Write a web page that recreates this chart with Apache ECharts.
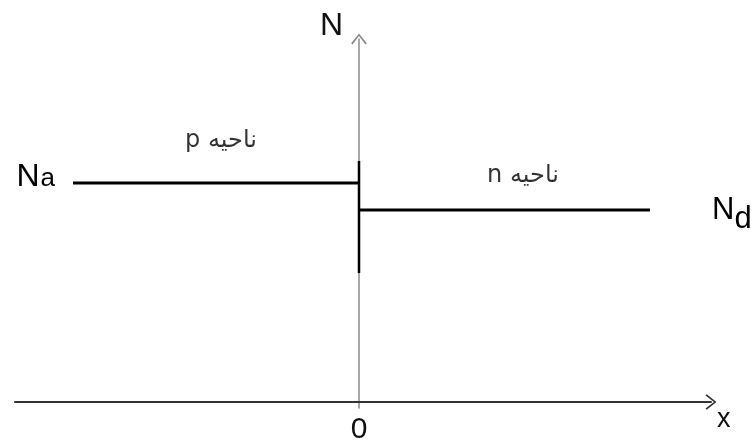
<!DOCTYPE html>
<html>
<head>
<meta charset="utf-8">
<script src="https://cdn.jsdelivr.net/npm/echarts@6/dist/echarts.min.js"></script>
<style>
html,body{margin:0;padding:0;background:#fff;}
#c{width:756px;height:441px;direction:rtl;}
</style>
</head>
<body>
<div id="c"></div>
<script>
// ---- data (x in distance units, 0 = junction; y = impurity level) ----
const naX = [-286, 0];
const naY = [219, 219];
const ndX = [0, 291];
const ndY = [192, 192];
const junctionX = [0, 0];
const junctionY = [241, 129];
const regionLabels = ['ناحیه p', 'ناحیه n'];
const regionX = [-138, 164];
const regionY = [261, 226];
const levelLabels = ['Na', 'Nd'];
const xTickLabels = [0];
const axisNames = {x: 'x', y: 'N'};

const chev = 'path://M0,10 L8,0 L16,10 L14.6,11.2 L8,2.6 L1.4,11.2 Z';
const font = 'Liberation Sans, Arial, sans-serif';
const ink = '#111';

const chart = echarts.init(document.getElementById('c'), null, {renderer: 'canvas'});

function pairs(xs, ys) { return xs.map((x, i) => [x, ys[i]]); }

const levelData = [
  {
    value: [naX[0], naY[0]], name: levelLabels[0],
    label: {
      position: 'left', distance: 18, offset: [0, -6],
      formatter: '{N|N}{s|a}',
      rich: {
        N: {fontSize: 32, lineHeight: 30, fontFamily: font, color: '#000', opacity: 1},
        s: {fontSize: 26, lineHeight: 26, verticalAlign: 'bottom', fontFamily: font, color: '#000', opacity: 1, padding: [0, 0, 0, 1]}
      }
    }
  },
  {
    value: [ndX[ndX.length - 1], ndY[ndY.length - 1]], name: levelLabels[1],
    label: {
      position: 'right', distance: 62, offset: [0, 5],
      formatter: '{N|N}{s|d}',
      rich: {
        N: {fontSize: 31, lineHeight: 30, verticalAlign: 'top', fontFamily: font, color: '#000', opacity: 1},
        s: {fontSize: 31, lineHeight: 40, verticalAlign: 'bottom', fontFamily: font, color: '#000', opacity: 1}
      }
    }
  }
];

const option = {
  animation: false,
  backgroundColor: '#fff',
  grid: {left: 15, right: 45, top: 39, bottom: 33, containLabel: false, outerBoundsMode: 'none'},
  xAxis: {
    type: 'value', min: -344, max: 352,
    name: axisNames.x, nameLocation: 'end', nameGap: 0,
    nameTextStyle: {fontSize: 27, fontFamily: font, color: ink, align: 'left', verticalAlign: 'top', padding: [4, 0, 0, 6]},
    axisLine: {show: true, onZero: true, symbol: ['none', chev], symbolSize: [16, 11],
      lineStyle: {color: '#333', width: 2}},
    axisTick: {show: false},
    splitLine: {show: false},
    axisLabel: {customValues: xTickLabels, margin: 7, fontSize: 30, fontFamily: font, color: ink,
      formatter: v => String(v)}
  },
  yAxis: {
    type: 'value', min: -6, max: 363,
    name: axisNames.y, nameLocation: 'end', nameGap: -3,
    nameTextStyle: {fontSize: 32, fontFamily: font, color: ink, align: 'right', verticalAlign: 'bottom', padding: [0, 16, 0, 0]},
    axisLine: {show: true, onZero: true, symbol: ['none', chev], symbolSize: [17, 11],
      lineStyle: {color: '#8a8a8a', width: 1.5}},
    axisTick: {show: false},
    splitLine: {show: false},
    axisLabel: {show: false}
  },
  series: [
    {
      type: 'line', name: 'Na', data: pairs(naX, naY), symbol: 'none', silent: true,
      lineStyle: {color: '#000', width: 3}
    },
    {
      type: 'line', name: 'Nd', data: pairs(ndX, ndY), symbol: 'none', silent: true,
      lineStyle: {color: '#000', width: 3}
    },
    {
      type: 'line', name: 'junction', data: pairs(junctionX, junctionY), symbol: 'none', silent: true,
      lineStyle: {color: '#000', width: 2.5}
    },
    {
      type: 'scatter', name: 'levels', symbolSize: 0.01, silent: true, clip: false,
      itemStyle: {color: '#000', opacity: 1},
      data: levelData,
      label: {show: true, color: '#000', opacity: 1, textBorderWidth: 0}
    },
    {
      type: 'scatter', name: 'regions', symbolSize: 1, silent: true,
      itemStyle: {color: 'rgba(0,0,0,0)'},
      data: regionLabels.map((t, i) => ({value: [regionX[i], regionY[i]], name: t})),
      label: {show: true, position: 'inside', formatter: p => p.name,
        fontSize: 24, fontFamily: 'DejaVu Sans, sans-serif', color: '#000'}
    }
  ]
};
chart.setOption(option);
</script>
</body>
</html>
